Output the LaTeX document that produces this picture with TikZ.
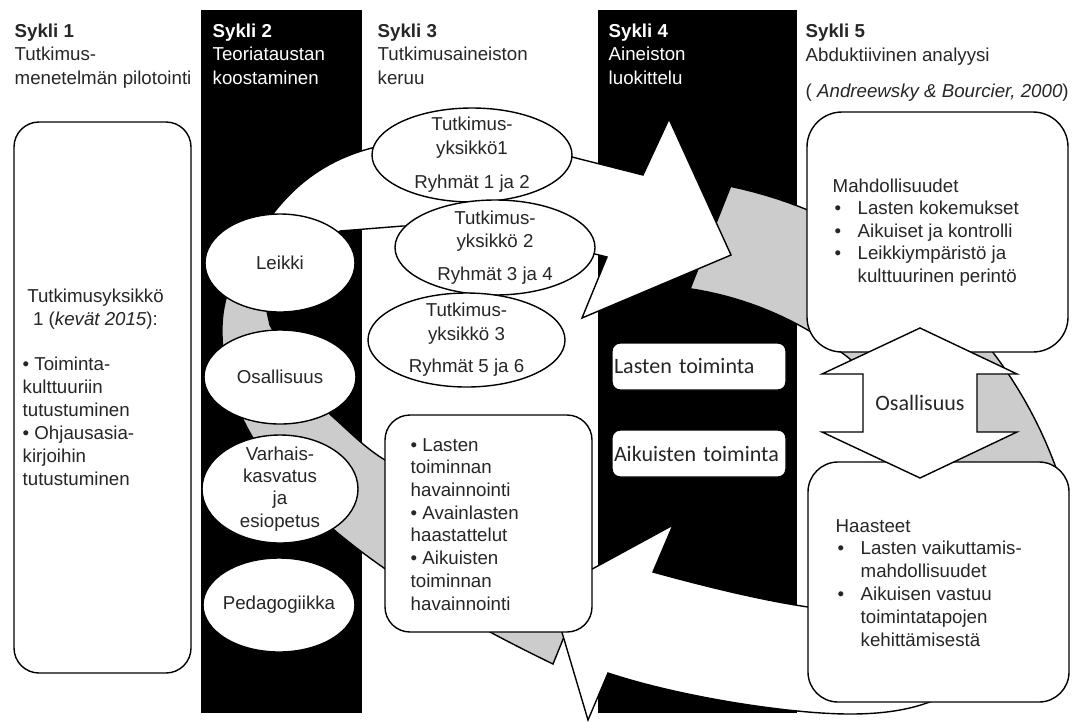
\documentclass[tikz,border=0pt]{standalone}
\usepackage{fontspec}
\setmainfont{Liberation Sans}
\newfontfamily\calibfont{Carlito}
\usetikzlibrary{shapes.geometric}

% luettelomerkki ja sisennys
\newcommand{\sykbul}{\hspace*{2pt}\makebox[23pt][l]{•}}
\newcommand{\sykind}{\hspace*{25pt}}

\begin{document}
\begin{tikzpicture}[
    x=1pt, y=-1pt,
    font=\fontsize{18.7}{23.5}\selectfont,
    text=black!85,
    line width=1.4pt,
    ellbox/.style={ellipse, draw=black, fill=white, inner sep=0pt, inner xsep=-3pt, inner ysep=-6pt, align=center},
    txt/.style={anchor=base west, align=left, inner sep=0pt},
    smallbox/.style={draw=black, fill=white, rounded corners=8pt, minimum width=174pt, minimum height=47pt,
        text width=170pt, align=left, inner xsep=2pt, font=\calibfont\fontsize{22}{26}\selectfont},
    grayband/.style={draw=black, fill=black!20, line join=miter},
    whiteband/.style={draw=black, fill=white, line join=miter},
]
    \useasboundingbox (0,0) rectangle (1073,721);

    % --- mustat palkit (syklit 2 ja 4) ---
    \fill[black] (201,10) rectangle (362,713);
    \fill[black] (598,10) rectangle (797,713);

    % --- harmaa kaari oikealla ---
    \def\cx{640} \def\cy{620}
    \draw[grayband] plot[domain=78.2:17.5, samples=40] ({\cx+443*cos(\x)}, {\cy-443*sin(\x)})
        -- plot[domain=17.5:81.4, samples=40] ({\cx+335*cos(\x)}, {\cy-335*sin(\x)}) -- cycle;

    % --- harmaa kaari vasemmalla ---
    \draw[grayband] (553,664) .. controls (390,585) and (225,480) .. (222,335)
        .. controls (221,300) and (232,275) .. (250,255)
        .. controls (258,280) and (265,300) .. (270,325)
        .. controls (290,360) and (310,395) .. (333,417)
        .. controls (350,432) and (365,448) .. (385,460)
        .. controls (450,505) and (530,560) .. (585,585) -- cycle;

    % --- valkoinen nuoli ylhaalla ---
    \draw[whiteband] (276,245) -- (272,215)
        .. controls (300,178) and (335,156) .. (380,146)
        .. controls (440,132) and (530,136) .. (572,157)
        -- (643,175) -- (669,119) -- (731,255) -- (582,318) -- (607,257) -- (595,254)
        .. controls (540,238) and (450,226) .. (403,226)
        -- (340,231) -- (330,238) -- (290,250) -- cycle;

    % --- valkoinen nuoli alhaalla ---
    \draw[whiteband] (880,615) -- (808,607)
        .. controls (760,600) and (700,585) .. (653,572)
        -- (673,525) -- (550,592) -- (588,720) -- (608,673)
        .. controls (680,697) and (790,714) .. (850,714)
        .. controls (890,714) and (915,708) .. (935,700)
        -- (930,640) -- cycle;

    % --- sykli 2: teoriakasitteet ---
    \node[ellbox, minimum width=150pt, minimum height=98pt] (leikki) at (280,263) {Leikki};
    \node[ellbox, minimum width=152pt, minimum height=94pt] (osall) at (280,377) {Osallisuus};
    \node[ellbox, minimum width=156pt, minimum height=108pt, font=\fontsize{18.7}{22.3}\selectfont]
        (varhais) at (280,489) {Varhais-\\kasvatus\\ja\\esiopetus};
    \node[ellbox, minimum width=152pt, minimum height=94pt] (pedago) at (279,605) {Pedagogiikka};

    % --- sykli 3: tutkimusyksikot ---
    \node[ellbox, minimum width=200pt, minimum height=94pt] (yks1) at (472,155) {Tutkimus-\\yksikkö1\\[11pt]Ryhmät 1 ja 2};
    \node[ellbox, minimum width=200pt, minimum height=95pt] (yks2) at (495,247.5) {Tutkimus-\\yksikkö 2\\[9pt]Ryhmät 3 ja 4};
    \node[ellbox, minimum width=197pt, minimum height=94pt] (yks3) at (466.5,340) {Tutkimus-\\yksikkö 3\\[9pt]Ryhmät 5 ja 6};

    % --- laatikot ---
    \draw[fill=white, rounded corners=25pt] (14,122) rectangle (191,673);
    \draw[fill=white, rounded corners=25pt] (385,415) rectangle (592,632);
    \draw[fill=white, rounded corners=35pt] (807,112) rectangle (1068,352);
    \draw[fill=white, rounded corners=30pt] (808,462) rectangle (1069,702);

    \node[smallbox] (lasten) at (699,366.5) {Lasten toiminta};
    \node[smallbox] (aikuis) at (699,453.5) {Aikuisten toiminta};

    % --- kaksisuuntainen nuoli ---
    \draw[fill=white, line join=miter] (920,328) -- (1017,374) -- (977,374) -- (977,432) -- (1017,432)
        -- (920,478) -- (822,432) -- (863,432) -- (863,374) -- (822,374) -- cycle;
    \node[font=\calibfont\fontsize{22}{26}\selectfont] (osallnuoli) at (920,403) {Osallisuus};

    % --- otsikot (ankkuri = viimeisen rivin perusviiva) ---
    \node[txt] (s1) at (14,84) {\textbf{Sykli 1}\\Tutkimus-\\menetelmän pilotointi};
    \node[txt, text=white] (s2) at (212,84) {\textbf{Sykli 2}\\Teoriataustan\\koostaminen};
    \node[txt] (s3) at (377,84) {\textbf{Sykli 3}\\Tutkimusaineiston\\keruu};
    \node[txt, text=white] (s4) at (608,84) {\textbf{Sykli 4}\\Aineiston\\luokittelu};
    \node[txt] (s5) at (805,61) {\textbf{Sykli 5}\\Abduktiivinen analyysi};
    \node[txt] (lahde) at (805,97) {( \textit{Andreewsky \& Bourcier, 2000})};

    % --- laatikoiden tekstit ---
    \node[txt, anchor=base, align=center] (b1otsikko) at (95.5,325.5) {Tutkimusyksikkö\\1 (\textit{kevät 2015}):};
    \node[txt, font=\fontsize{18.7}{23}\selectfont] (b1lista) at (22,485)
        {• Toiminta-\\kulttuuriin\\tutustuminen\\• Ohjausasia-\\kirjoihin\\tutustuminen};
    \node[txt, font=\fontsize{18.7}{22.7}\selectfont] (b3lista) at (410,610)
        {• Lasten\\toiminnan\\havainnointi\\• Avainlasten\\haastattelut\\• Aikuisten\\toiminnan\\havainnointi};
    \node[txt, font=\fontsize{18.7}{22.5}\selectfont] (mahd) at (832,282)
        {Mahdollisuudet\\\sykbul Lasten kokemukset\\\sykbul Aikuiset ja kontrolli\\\sykbul Leikkiympäristö ja\\\sykind kulttuurinen perintö};
    \node[txt, font=\fontsize{18.7}{22.8}\selectfont] (haast) at (835,646)
        {Haasteet\\\sykbul Lasten vaikuttamis-\\\sykind mahdollisuudet\\\sykbul Aikuisen vastuu\\\sykind toimintatapojen\\\sykind kehittämisestä};
\end{tikzpicture}
\end{document}
